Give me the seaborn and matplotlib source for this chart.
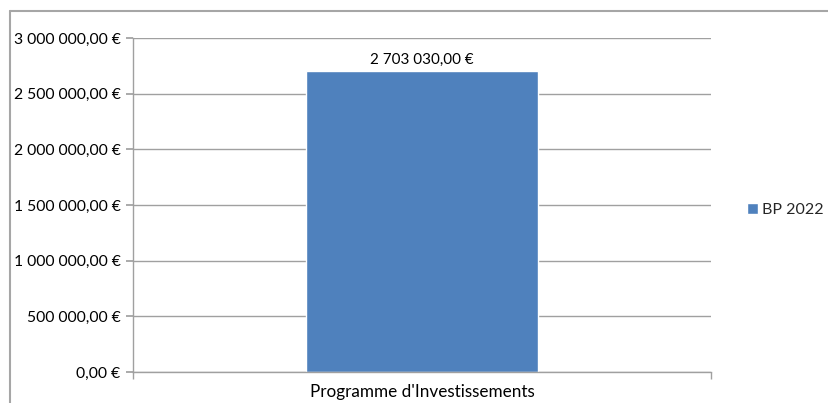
import matplotlib
matplotlib.use("Agg")
import matplotlib.pyplot as plt
import seaborn as sns
import pandas as pd
from matplotlib.lines import Line2D
from matplotlib.ticker import FuncFormatter, FixedLocator

categories = ["Programme d'Investissements"]
series_name = "BP 2022"
values = [2703030.00]
y_ticks = [0, 500000, 1000000, 1500000, 2000000, 2500000, 3000000]

sns.set_theme(style="white")
plt.rcParams['font.family'] = ['Lato', 'DejaVu Sans']

W, H = 829, 403
fig = plt.figure(figsize=(W / 100, H / 100), dpi=100)
ax = fig.add_axes([133 / W, 1 - 372 / H, (711 - 133) / W, (372 - 38) / H])

df = pd.DataFrame({"cat": categories, "val": values, "serie": [series_name] * len(values)})
sns.barplot(data=df, x="cat", y="val", hue="serie", palette=["#4F81BD"],
            width=0.4, ax=ax, saturation=1, legend=True)

def fr(v, pos=None):
    s = f"{v:,.2f}".replace(",", " ").replace(".", ",")
    return s + " €"

ax.set_ylim(0, 3000000)
ax.set_xlim(-0.5, 0.5)
ax.yaxis.set_major_locator(FixedLocator(y_ticks))
ax.yaxis.set_major_formatter(FuncFormatter(fr))
ax.grid(axis="y", color="#A0A0A0", linewidth=1.0)
ax.set_axisbelow(True)
ax.set_xlabel("")
ax.set_ylabel("")

for s in ["top", "right"]:
    ax.spines[s].set_visible(False)
for s in ["left", "bottom"]:
    ax.spines[s].set_color("#A0A0A0")
    ax.spines[s].set_linewidth(1.0)

ax.tick_params(axis="y", which="major", left=True, length=5, color="#A0A0A0",
               labelsize=11.3, labelcolor="black", pad=4)
ax.set_xticks([0])
ax.set_xticklabels(categories)
ax.tick_params(axis="x", bottom=False, labelsize=12.3, labelcolor="black", pad=3)
# boundary tick marks on category axis
ax.xaxis.set_minor_locator(FixedLocator([-0.5, 0.5]))
ax.tick_params(axis="x", which="minor", bottom=True, length=5, color="#A0A0A0")

for c in ax.containers:
    ax.bar_label(c, labels=[fr(v) for v in values], padding=3, fontsize=10.9, color="black")

leg = ax.legend(loc="center left", bbox_to_anchor=(739 / W, 1 - 210 / H),
                bbox_transform=fig.transFigure, frameon=False, fontsize=11.5,
                handlelength=0.7, handleheight=0.7, handletextpad=0.25, borderpad=0)

fig.add_artist(Line2D([10 / W, 1.0], [1 - 11 / H, 1 - 11 / H], transform=fig.transFigure,
                      color="#A6A6A6", linewidth=1.5))
fig.add_artist(Line2D([10 / W, 10 / W], [1 - 11 / H, 0.0], transform=fig.transFigure,
                      color="#A6A6A6", linewidth=1.5))

fig.savefig("out.png", dpi=100)
